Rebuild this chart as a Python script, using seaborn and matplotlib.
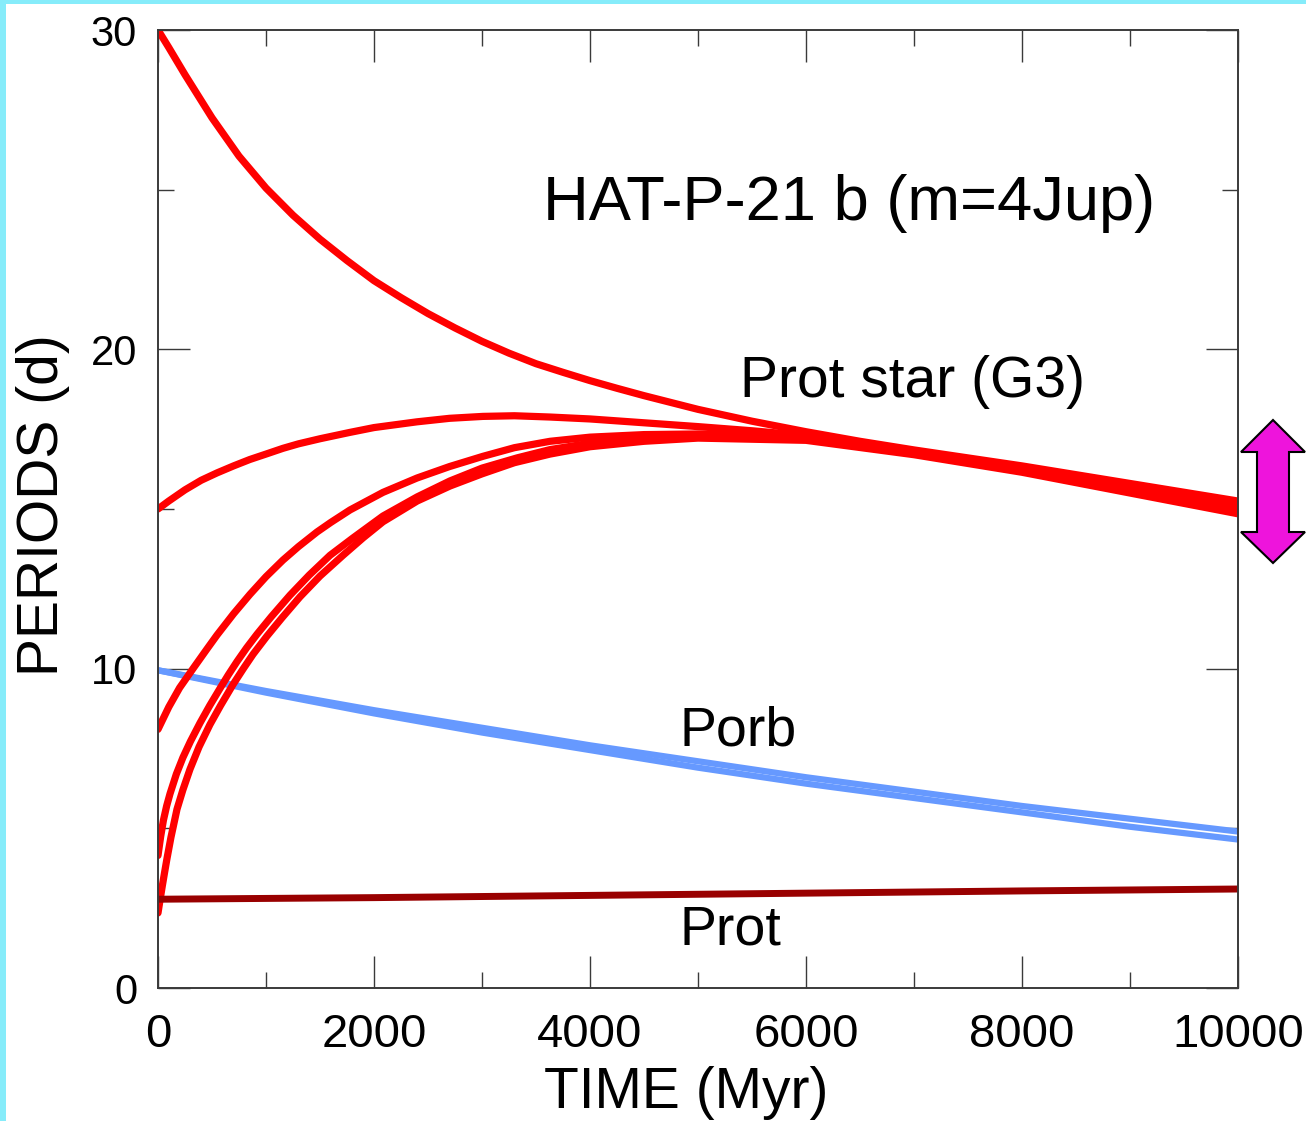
import matplotlib
matplotlib.use("Agg")
import matplotlib.pyplot as plt
from matplotlib.patches import Rectangle, Polygon
from matplotlib.ticker import MultipleLocator
import seaborn as sns

# ---- data ----
# Stellar rotation period tracks (red)
star_a_t = [0, 100, 250, 500, 750, 1000, 1250, 1500, 1750, 2000, 2250, 2500, 2750, 3000, 3250, 3500,
            3750, 4000, 4250, 4500, 5000, 5500, 6000, 6500, 7000, 8000, 9000, 10000]
star_a_p = [30.0, 29.45, 28.6, 27.25, 26.05, 25.05, 24.2, 23.45, 22.78, 22.15, 21.62, 21.12, 20.67, 20.25,
            19.88, 19.55, 19.28, 19.02, 18.78, 18.55, 18.12, 17.75, 17.42, 17.12, 16.85, 16.35, 15.8, 15.25]

star_b_t = [0, 100, 250, 400, 546, 700, 850, 1000, 1157, 1300, 1500, 1778, 2000, 2398, 2700, 3009, 3300,
            3630, 4000, 4500, 5000, 5500, 6000, 6500, 7000, 8000, 9000, 10000]
star_b_p = [15.0, 15.25, 15.6, 15.9, 16.13, 16.35, 16.55, 16.72, 16.9, 17.04, 17.2, 17.4, 17.55, 17.73,
            17.84, 17.9, 17.92, 17.88, 17.82, 17.7, 17.58, 17.45, 17.3, 17.05, 16.8, 16.3, 15.75, 15.15]

star_c_t = [0, 50, 100, 200, 324, 450, 546, 700, 852, 1000, 1157, 1300, 1472, 1600, 1778, 2083, 2398,
            2700, 3009, 3300, 3630, 4000, 4500, 5000, 5500, 6000, 7000, 8000, 9000, 10000]
star_c_p = [8.1, 8.45, 8.8, 9.4, 10.0, 10.6, 11.05, 11.72, 12.33, 12.88, 13.4, 13.82, 14.28, 14.58, 14.97,
            15.52, 15.97, 16.33, 16.65, 16.92, 17.12, 17.25, 17.33, 17.35, 17.32, 17.25, 16.8, 16.25, 15.7, 15.05]

star_d_t = [0, 25, 50, 80, 111, 170, 231, 300, 389, 480, 574, 650, 731, 820, 917, 1050, 1222, 1400, 1593,
            1800, 2083, 2400, 2704, 3000, 3324, 3630, 4000, 4500, 5000, 5500, 6000, 7000, 8000, 9000, 10000]
star_d_p = [4.15, 4.75, 5.25, 5.7, 6.08, 6.7, 7.22, 7.72, 8.3, 8.85, 9.38, 9.8, 10.22, 10.65, 11.08, 11.63,
            12.3, 12.93, 13.55, 14.08, 14.78, 15.38, 15.88, 16.28, 16.6, 16.86, 17.06, 17.2, 17.28, 17.3, 17.2,
            16.75, 16.2, 15.6, 14.95]

star_e_t = [0, 20, 40, 60, 83, 120, 176, 230, 296, 380, 481, 580, 694, 790, 880, 1009, 1150, 1315, 1500,
            1713, 1900, 2083, 2400, 2704, 3000, 3300, 3630, 4000, 4500, 5000, 6000, 7000, 8000, 9000, 10000]
star_e_p = [2.35, 2.78, 3.2, 3.6, 4.05, 4.72, 5.6, 6.2, 6.85, 7.55, 8.25, 8.85, 9.5, 10.0, 10.45, 11.02,
            11.6, 12.25, 12.9, 13.55, 14.1, 14.6, 15.25, 15.72, 16.1, 16.45, 16.72, 16.95, 17.12, 17.22, 17.15,
            16.7, 16.15, 15.5, 14.85]

# Orbital period tracks (blue)
porb_t = [0, 1000, 2000, 3000, 4000, 5000, 6000, 7000, 8000, 9000, 10000]
porb_hi = [9.95, 9.3, 8.7, 8.15, 7.6, 7.1, 6.6, 6.15, 5.7, 5.3, 4.9]
porb_lo = [9.95, 9.25, 8.6, 8.0, 7.45, 6.9, 6.4, 5.95, 5.5, 5.05, 4.65]

# Planet rotation period (dark red)
prot_t = [0, 2000, 4000, 6000, 8000, 10000]
prot_p = [2.78, 2.83, 2.9, 2.97, 3.04, 3.1]

x_ticks = [0, 2000, 4000, 6000, 8000, 10000]
y_ticks = [0, 10, 20, 30]

title_text = "HAT-P-21 b (m=4Jup)"
label_star = "Prot star (G3)"
label_porb = "Porb"
label_prot = "Prot"
x_label = "TIME (Myr)"
y_label = "PERIODS (d)"

# ---- styling ----
sns.set_theme(style="white")
plt.rcParams["font.family"] = ["Liberation Sans", "DejaVu Sans"]

W, H = 1306, 1121
fig = plt.figure(figsize=(W / 100, H / 100), dpi=100)
fig.patch.set_facecolor("#86ECFA")
fig.add_artist(Rectangle((6 / W, 0), 1 - 6 / W, 1 - 4 / H, transform=fig.transFigure,
                         facecolor="white", edgecolor="none", zorder=-5))

L, R, T, B = 158, 1238, 30, 988
ax = fig.add_axes([L / W, 1 - B / H, (R - L) / W, (B - T) / H])
ax.set_facecolor("white")

red = "#FF0000"
blue = "#6699FF"
dred = "#990000"

sns.lineplot(x=porb_t, y=porb_hi, ax=ax, color=blue, lw=4.5, solid_capstyle="round")
sns.lineplot(x=porb_t, y=porb_lo, ax=ax, color=blue, lw=4.5, solid_capstyle="round")
for tt, pp in [(star_a_t, star_a_p), (star_b_t, star_b_p), (star_c_t, star_c_p),
               (star_d_t, star_d_p), (star_e_t, star_e_p)]:
    sns.lineplot(x=tt, y=pp, ax=ax, color=red, lw=5.2, solid_capstyle="round",
                 solid_joinstyle="round")
sns.lineplot(x=prot_t, y=prot_p, ax=ax, color=dred, lw=5.0, solid_capstyle="round")

ax.set_xlim(0, 10000)
ax.set_ylim(0, 30)
ax.set_xticks(x_ticks)
ax.set_yticks(y_ticks)
ax.xaxis.set_minor_locator(MultipleLocator(1000))
ax.yaxis.set_minor_locator(MultipleLocator(5))
ax.set_xticklabels([str(v) for v in x_ticks])
ax.set_yticklabels([str(v) for v in y_ticks])

spine_c = "#3a3a3a"
for s in ax.spines.values():
    s.set_visible(True)
    s.set_color(spine_c)
    s.set_linewidth(1.4)

ax.tick_params(axis="both", which="both", direction="in", top=True, right=True,
               bottom=True, left=True, color=spine_c, width=1.0)
ax.tick_params(axis="both", which="major", length=23)
ax.tick_params(axis="both", which="minor", length=11.5)
ax.tick_params(axis="x", which="major", labelsize=34, pad=18, labelcolor="black")
ax.tick_params(axis="y", which="major", labelsize=30, pad=15, labelcolor="black")

ax.set_xlabel(x_label, fontsize=41, color="black")
ax.set_ylabel(y_label, fontsize=41, color="black")
ax.xaxis.set_label_coords((686 - L) / (R - L), (B - 1066) / (B - T))
ax.yaxis.set_label_coords((70 - L) / (R - L), (B - 505) / (B - T))

ax.text(3565, 24.05, title_text, fontsize=45.5, ha="left", va="baseline", color="black")
ax.text(5389, 18.51, label_star, fontsize=41, ha="left", va="baseline", color="black")
ax.text(4833, 7.58, label_porb, fontsize=40, ha="left", va="baseline", color="black")
ax.text(4833, 1.35, label_prot, fontsize=40, ha="left", va="baseline", color="black")

# double-headed magenta arrow outside the right spine
def fx(px):
    return (px - L) / (R - L)

def fy(py):
    return (B - py) / (B - T)

arrow_pts = [
    (fx(1273), fy(420)), (fx(1305), fy(452)), (fx(1289), fy(452)), (fx(1289), fy(532)),
    (fx(1305), fy(532)), (fx(1273), fy(563)), (fx(1241), fy(532)), (fx(1257), fy(532)),
    (fx(1257), fy(452)), (fx(1241), fy(452)),
]
ax.add_patch(Polygon(arrow_pts, closed=True, transform=ax.transAxes, clip_on=False,
                     facecolor="#EE14DC", edgecolor="black", lw=1.5, zorder=5))

fig.savefig("out.png", dpi=100, facecolor=fig.get_facecolor())
